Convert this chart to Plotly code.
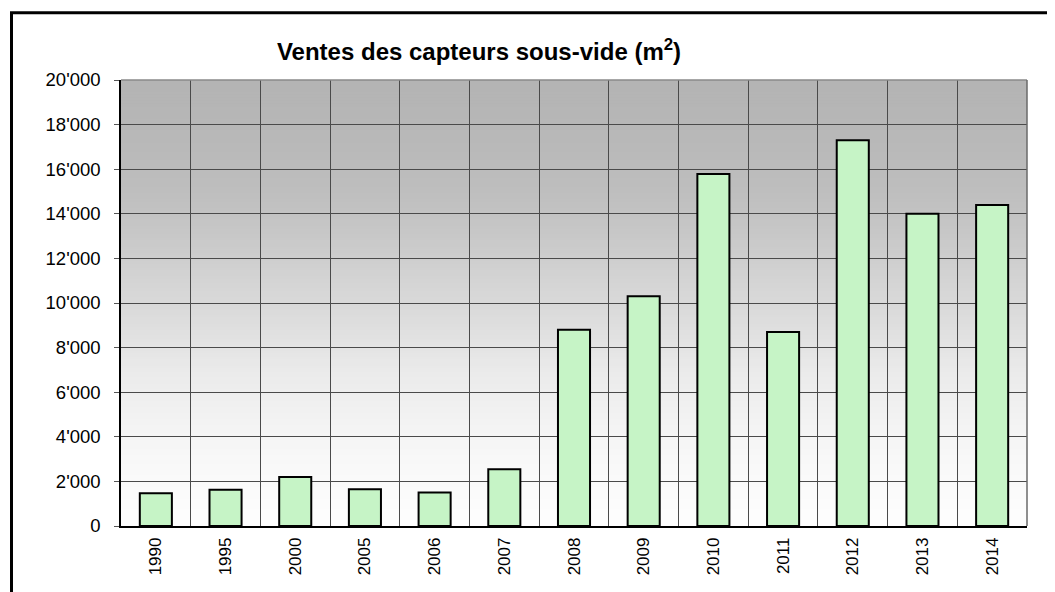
import plotly.graph_objects as go
import numpy as np

years = ["1990", "1995", "2000", "2005", "2006", "2007", "2008", "2009",
         "2010", "2011", "2012", "2013", "2014"]
ventes = [1470, 1620, 2200, 1650, 1500, 2550, 8800, 10300,
          15780, 8700, 17300, 14000, 14400]
y_ticks = [0, 2000, 4000, 6000, 8000, 10000, 12000, 14000, 16000, 18000, 20000]
title_text = "<b>Ventes des capteurs sous-vide (m<sup>2</sup>)</b>"

# the page body has an 8px margin; figure coordinates are offset accordingly
OFF = 8
W, H = 1055 - OFF, 592 - OFF
L, R, T, B = 121 - OFF, 28, 80 - OFF, 66
pw, ph = W - L - R, H - T - B

fig = go.Figure()
fig.add_trace(go.Bar(
    x=years, y=ventes,
    marker=dict(color="#c6f4c6", line=dict(color="black", width=2)),
    showlegend=False,
))

shapes = []
# background gradient style (fraction of plot height from bottom -> grey level)
grad_pos = [0.0, 0.05, 0.15, 0.25, 0.35, 0.45, 0.55, 0.65, 0.75, 0.85, 0.95, 1.0]
grad_lvl = [254, 252, 248, 242, 234, 222, 212, 200, 190, 185, 181, 180]
n = 150
for i in range(n):
    y0 = i / n
    y1 = (i + 1) / n
    c = int(round(np.interp((i + 0.5) / n, grad_pos, grad_lvl)))
    shapes.append(dict(type="rect", xref="paper", yref="paper",
                       x0=0, x1=1, y0=y0, y1=min(1, y1 + 0.002),
                       fillcolor=f"rgb({c},{c},{c})", line=dict(width=0),
                       layer="below"))
# top and right border of plot area (grey)
shapes.append(dict(type="line", xref="paper", yref="paper", x0=0, x1=1, y0=1, y1=1,
                   line=dict(color="#8a8a8a", width=1.5), layer="above"))
shapes.append(dict(type="line", xref="paper", yref="paper", x0=1, x1=1, y0=0, y1=1,
                   line=dict(color="#6a6a6a", width=1.5), layer="above"))


def px_x(p):
    return (p - OFF - L) / pw


def px_y(p):
    return (H - B - (p - OFF)) / ph


# outer chart frame (left and top, black)
shapes.append(dict(type="path", xref="paper", yref="paper",
                   path=f"M {px_x(11.5)} {px_y(640)} L {px_x(11.5)} {px_y(12.8)} L {px_x(1100)} {px_y(12.8)}",
                   line=dict(color="black", width=3), layer="above"))

fig.update_layout(
    width=W, height=H,
    margin=dict(l=L, r=R, t=T, b=B),
    paper_bgcolor="white",
    plot_bgcolor="white",
    separators=".'",
    font=dict(family="Liberation Sans, Arial, sans-serif", color="black"),
    title=dict(text=title_text, x=(479 - OFF) / W, xanchor="center",
               y=1 - (52 - OFF) / H, yanchor="middle",
               font=dict(size=24, color="black")),
    bargap=0.54,
    shapes=shapes,
    xaxis=dict(
        type="category", tickson="boundaries", showgrid=True,
        gridcolor="#4a4a4a", gridwidth=1,
        showline=True, linecolor="black", linewidth=1.5,
        ticks="", tickangle=-90, tickfont=dict(size=17),
        ticklabelstandoff=3,
        range=[-0.5, len(years) - 0.5],
    ),
    yaxis=dict(
        range=[0, 20000], tickvals=y_ticks, tickformat=",d",
        showgrid=True, gridcolor="#4a4a4a", gridwidth=1,
        showline=True, linecolor="black", linewidth=1.5,
        ticks="outside", ticklen=5, tickcolor="#555555",
        tickfont=dict(size=18.5), ticklabelstandoff=10,
        zeroline=False,
    ),
)

fig.write_html("out.html")
